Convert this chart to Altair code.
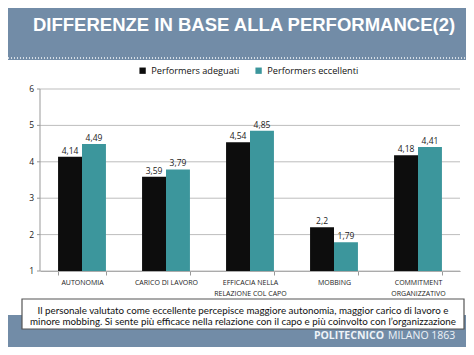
import altair as alt
import pandas as pd

categories = ["AUTONOMIA", "CARICO DI LAVORO", "EFFICACIA NELLA RELAZIONE COL CAPO", "MOBBING", "COMMITMENT ORGANIZZATIVO"]
adeguati = [4.14, 3.59, 4.54, 2.2, 4.18]
eccellenti = [4.49, 3.79, 4.85, 1.79, 4.41]
series = ["Performers adeguati", "Performers eccellenti"]
colors = ["#0d0d0d", "#3c969c"]
y_ticks = [1, 2, 3, 4, 5, 6]
title = "DIFFERENZE IN BASE ALLA PERFORMANCE(2)"
note1 = "Il personale valutato come eccellente percepisce maggiore autonomia, maggior carico di lavoro e"
note2 = "minore mobbing. Si sente più efficace nella relazione con il capo e più coinvolto con l’organizzazione"
footer_bold = "POLITECNICO"
footer_reg = "MILANO 1863"

rows = []
for i, c in enumerate(categories):
    rows.append({"cat": c, "serie": series[0], "value": adeguati[i]})
    rows.append({"cat": c, "serie": series[1], "value": eccellenti[i]})
df = pd.DataFrame(rows)
ticks_df = pd.DataFrame({"value": y_ticks})

W, H = 420, 182
PL, PT = 32, 81
HEADER = "#728ca7"
FONT = "Liberation Sans"
LFONT = "Open Sans"

label_expr = ("datum.label == 'EFFICACIA NELLA RELAZIONE COL CAPO' ? ['EFFICACIA NELLA','RELAZIONE COL CAPO'] : "
              "datum.label == 'COMMITMENT ORGANIZZATIVO' ? ['COMMITMENT','ORGANIZZATIVO'] : datum.label")

yscale = alt.Scale(domain=[1, 6], nice=False, zero=False)

# manual y axis pieces (through the shared y scale)
grid = alt.Chart(ticks_df).mark_rule(color="#bdbdbd", strokeWidth=1).encode(
    y=alt.Y("value:Q", scale=yscale, axis=None), x=alt.value(0), x2=alt.value(W))
yticks = alt.Chart(ticks_df).mark_rule(color="#999", strokeWidth=1).encode(
    y=alt.Y("value:Q", scale=yscale, axis=None), x=alt.value(-3), x2=alt.value(0))
ylabels = alt.Chart(ticks_df).mark_text(align="right", baseline="middle", fontSize=8.5, font=LFONT,
                                        color="#222").encode(
    y=alt.Y("value:Q", scale=yscale, axis=None), x=alt.value(-6), text="value:Q")
ydomain = alt.Chart(pd.DataFrame({"lo": [y_ticks[0]], "hi": [y_ticks[-1]]})).mark_rule(
    color="#999", strokeWidth=1).encode(
    y=alt.Y("lo:Q", scale=yscale, axis=None), y2="hi:Q", x=alt.value(0))

base = alt.Chart(df)
xenc = alt.X("cat:N", sort=categories, title=None,
             scale=alt.Scale(paddingInner=0.43, paddingOuter=0.215),
             axis=alt.Axis(labelAngle=0, labelExpr=label_expr, labelFontSize=7, labelFont=LFONT,
                           labelColor="#222", tickBand="extent", tickSize=4, tickColor="#999",
                           domainColor="#999", labelPadding=3, labelLineHeight=11, grid=False))
bars = base.mark_bar().encode(
    x=xenc,
    xOffset=alt.XOffset("serie:N", sort=series, scale=alt.Scale(paddingInner=0, paddingOuter=0)),
    y=alt.Y("value:Q", scale=yscale, axis=None),
    y2=alt.datum(1),
    color=alt.Color("serie:N", sort=series, scale=alt.Scale(domain=series, range=colors),
                    legend=alt.Legend(title=None, orient="none", direction="horizontal", legendX=98, legendY=-23,
                                      symbolType="square", symbolSize=40, labelFontSize=9.2, labelFont=LFONT,
                                      labelColor="#111", columnPadding=14, symbolStrokeWidth=0)),
)
labels = base.mark_text(dy=-6, fontSize=8.5, font=LFONT, color="#222").transform_calculate(
    lbl="replace(toString(datum.value), '.', ',')"
).encode(
    x=alt.X("cat:N", sort=categories),
    xOffset=alt.XOffset("serie:N", sort=series),
    y=alt.Y("value:Q", scale=yscale, axis=None),
    text="lbl:N",
)

one = pd.DataFrame({"a": [0]})


def txt(s, x, y, **kw):
    return alt.Chart(pd.DataFrame({"t": [s]})).mark_text(**kw).encode(
        x=alt.value(x), y=alt.value(y), text="t:N")


header = alt.Chart(one).mark_rect(color=HEADER).encode(
    x=alt.value(-PL), x2=alt.value(W + 10), y=alt.value(-PT), y2=alt.value(60 - 89))
dots = alt.Chart(one).mark_rule(color="white", strokeWidth=2, strokeDash=[1, 2], opacity=0.7).encode(
    x=alt.value(-PL), x2=alt.value(W + 10), y=alt.value(58 - 89))
title_t = txt(title, 33 - 40, 25 - 89, color="white", fontSize=18.5, fontWeight="bold", font=FONT,
              align="left", baseline="middle")
footer = alt.Chart(one).mark_rect(color=HEADER).encode(
    x=alt.value(-PL), x2=alt.value(W + 10), y=alt.value(315 - 89), y2=alt.value(355 - 89))
box = alt.Chart(one).mark_rect(color="white", stroke="#555", strokeWidth=1.2).encode(
    x=alt.value(22 - 40), x2=alt.value(464 - 40), y=alt.value(299 - 89), y2=alt.value(329 - 89))
n1 = txt(note1, 243 - 40, 311 - 89, color="#111", fontSize=9.8, font="Lato", align="center", baseline="middle")
n2 = txt(note2, 243 - 40, 322 - 89, color="#111", fontSize=9.8, font="Lato", align="center", baseline="middle")
fb = txt(footer_bold, 384 - 40, 336 - 89, color="#eef3f8", fontSize=10.5, fontWeight="bold", font=LFONT,
         align="right", baseline="middle")
fr = txt(footer_reg, 388 - 40, 336 - 89, color="#eef3f8", fontSize=10.5, font=LFONT,
         align="left", baseline="middle")

chart = alt.layer(header, dots, title_t, footer, box, n1, n2, fb, fr,
                  grid, yticks, ylabels, ydomain, bars, labels).properties(
    width=W, height=H,
    autosize=alt.AutoSizeParams(type="none"),
    padding={"left": PL, "top": PT, "right": 458 - PL - W, "bottom": 339 - PT - H},
).configure_view(stroke=None)

chart.save("out.html", embed_options={"renderer": "svg", "actions": False})
